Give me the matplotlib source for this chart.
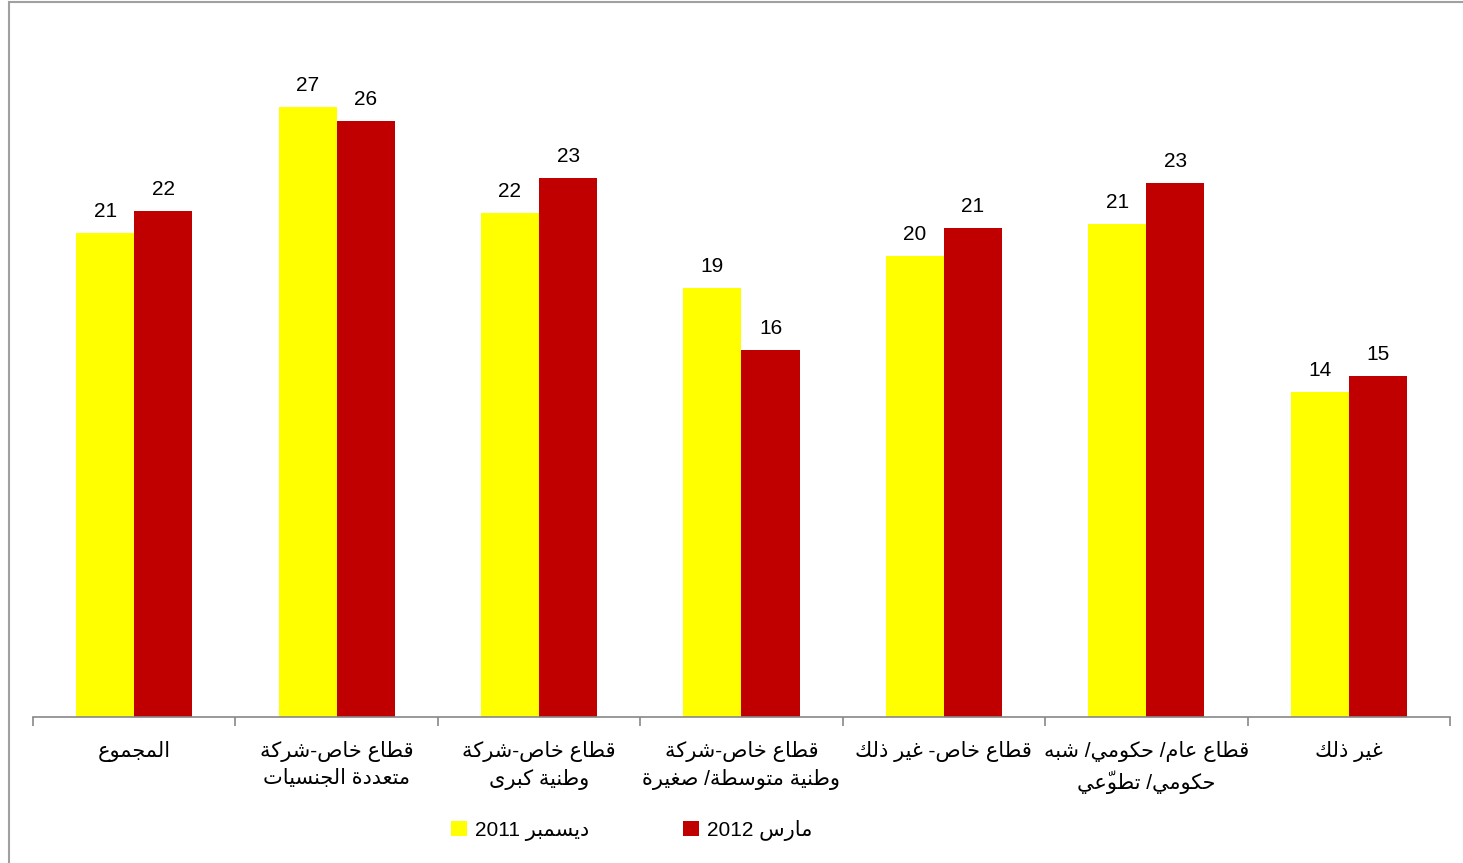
import re

import matplotlib

matplotlib.use("Agg")
import matplotlib.pyplot as plt
import numpy
from matplotlib.patches import Patch, Rectangle

# Data
categories = [
    "المجموع",
    "قطاع خاص-شركة\nمتعددة الجنسيات",
    "قطاع خاص-شركة\nوطنية كبرى",
    "قطاع خاص-شركة\nوطنية متوسطة/ صغيرة",
    "قطاع خاص- غير ذلك",
    "قطاع عام/ حكومي/ شبه\nحكومي/ تطوّعي",
    "غير ذلك",
]
series_names = ["ديسمبر 2011", "مارس 2012"]
dec_2011 = [21.07, 26.53, 21.91, 18.65, 20.04, 21.43, 14.14]
mar_2012 = [22.03, 25.94, 23.43, 15.96, 21.26, 23.22, 14.84]

yellow = "#ffff00"
red = "#c00000"

# Arabic shaping: matplotlib has no complex text layout, so map letters to
# their contextual presentation forms and put them in visual order.
DUAL = {
    "ب": 0xFE8F, "ت": 0xFE95, "ج": 0xFE9D, "ح": 0xFEA1, "خ": 0xFEA5,
    "س": 0xFEB1, "ش": 0xFEB5, "ص": 0xFEB9, "ط": 0xFEC1, "ع": 0xFEC9,
    "غ": 0xFECD, "ق": 0xFED5, "ك": 0xFED9, "ل": 0xFEDD, "م": 0xFEE1,
    "ن": 0xFEE5, "ه": 0xFEE9, "ي": 0xFEF1,
}
RIGHT = {
    "ا": 0xFE8D, "ة": 0xFE93, "د": 0xFEA9, "ذ": 0xFEAB, "ر": 0xFEAD,
    "ز": 0xFEAF, "و": 0xFEED, "ى": 0xFEEF,
}
MARKS = {"\u0651"}


def shape_line(line):
    chars = list(line)

    def neighbour(i, step):
        j = i + step
        while 0 <= j < len(chars) and chars[j] in MARKS:
            j += step
        return chars[j] if 0 <= j < len(chars) else None

    out = []
    for i, c in enumerate(chars):
        if c in DUAL or c in RIGHT:
            prev_c, next_c = neighbour(i, -1), neighbour(i, 1)
            join_prev = prev_c in DUAL
            join_next = c in DUAL and (next_c in DUAL or next_c in RIGHT)
            base = DUAL.get(c, RIGHT.get(c))
            form = [[0, 2], [1, 3]][join_prev][join_next]
            out.append(chr(base + form))
        else:
            out.append(c)
    visual = "".join(out[::-1])
    return re.sub(r"[0-9]+", lambda m: m.group()[::-1], visual)


def shape(text):
    return "\n".join(shape_line(line) for line in text.split("\n"))


plt.rcParams["font.family"] = ["Liberation Sans", "DejaVu Sans"]
plt.rcParams["font.size"] = 15

fig = plt.figure(figsize=(14.63, 8.63), dpi=100)
ax = fig.add_axes([0.02256, 0.1688, 0.9685, 0.7996])

x = numpy.arange(len(categories))
width = 0.287

bars_dec = ax.bar(x - width, dec_2011, width, align="edge", color=yellow)
bars_mar = ax.bar(x, mar_2012, width, align="edge", color=red)

for bars, values in [(bars_dec, dec_2011), (bars_mar, mar_2012)]:
    for bar, value in zip(bars, values):
        ax.annotate(
            f"{value:.0f}",
            (bar.get_x() + bar.get_width() / 2, bar.get_height()),
            xytext=(0, 11.5),
            textcoords="offset points",
            ha="center",
            va="baseline",
        )

ax.set_xlim(-0.5, len(categories) - 0.5)
ax.set_ylim(0, 30)

for side in ["top", "right", "left"]:
    ax.spines[side].set_visible(False)
ax.spines["bottom"].set_color("#888888")
ax.spines["bottom"].set_linewidth(1.2)
ax.set_yticks([])

ax.set_xticks(x)
ax.set_xticklabels(
    [shape(c) for c in categories], multialignment="center", linespacing=1.45
)
ax.set_xticks(numpy.arange(len(categories) + 1) - 0.5, minor=True)
ax.tick_params(axis="x", which="major", length=0, pad=17)
ax.tick_params(axis="x", which="minor", length=6.5, width=1.2, color="#888888", direction="out")

handles = [
    Patch(facecolor=yellow, edgecolor="none"),
    Patch(facecolor=red, edgecolor="none"),
]
fig.legend(
    handles,
    [shape(name) for name in series_names],
    loc="center",
    bbox_to_anchor=(632 / 1463, 1 - 830 / 863),
    ncol=2,
    frameon=False,
    handlelength=0.75,
    handleheight=0.75,
    handletextpad=0.4,
    columnspacing=4.5,
)

# chart border
fig.patches.append(
    Rectangle(
        (8.5 / 1463, -0.05),
        1.2,
        1.05 - 2.5 / 863,
        transform=fig.transFigure,
        fill=False,
        edgecolor="#a0a0a0",
        linewidth=1.5,
    )
)

fig.savefig("out.png", dpi=100)
